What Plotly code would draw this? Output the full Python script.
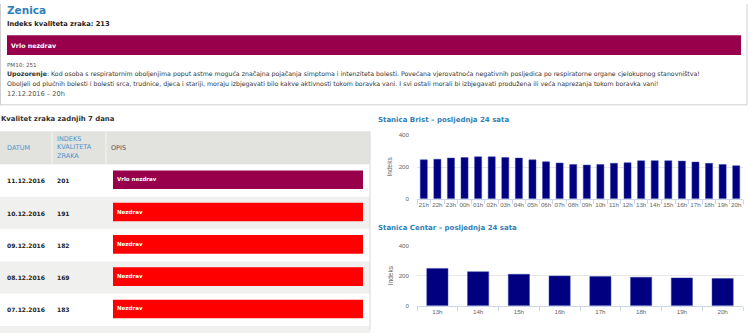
import plotly.graph_objects as go

# ---------------- data ----------------
city = "Zenica"
aqi_now = 213
status_now = "Vrlo nezdrav"
pm10_now = 251
warning_line1 = ("Kod osoba s respiratornim oboljenjima poput astme moguća značajna pojačanja simptoma i "
                 "intenziteta bolesti. Povećana vjerovatnoća negativnih posljedica po respiratorne organe "
                 "cjelokupnog stanovništva!")
warning_line2 = ("Oboljeli od plućnih bolesti i bolesti srca, trudnice, djeca i stariji, moraju izbjegavati "
                 "bilo kakve aktivnosti tokom boravka vani. I svi ostali morali bi izbjegavati produžena ili "
                 "veća naprezanja tokom boravka vani!")
timestamp = "12.12.2016 – 20h"

table_title = "Kvalitet zraka zadnjih 7 dana"
table_headers = ["DATUM", "INDEKS<br>KVALITETA<br>ZRAKA", "OPIS"]
dates = ["11.12.2016", "10.12.2016", "09.12.2016", "08.12.2016", "07.12.2016"]
index_values = [201, 191, 182, 169, 183]
descriptions = ["Vrlo nezdrav", "Nezdrav", "Nezdrav", "Nezdrav", "Nezdrav"]
status_colors = {"Vrlo nezdrav": "#99004c", "Nezdrav": "#ff0000"}

brist_title = "Stanica Brist – posljednja 24 sata"
brist_hours = ["21h", "22h", "23h", "00h", "01h", "02h", "03h", "04h", "05h", "06h", "07h", "08h",
               "09h", "10h", "11h", "12h", "13h", "14h", "15h", "16h", "17h", "18h", "19h", "20h"]
brist_values = [245, 249, 256, 260, 264, 264, 260, 256, 245, 233, 225, 216,
                212, 216, 223, 227, 239, 240, 239, 237, 231, 223, 216, 208]

centar_title = "Stanica Centar – posljednja 24 sata"
centar_hours = ["13h", "14h", "15h", "16h", "17h", "18h", "19h", "20h"]
centar_values = [248, 226, 209, 198, 194, 189, 185, 181]

y_ticks = [0, 200, 400]
y_title = "Indeks"

# ---------------- layout helpers ----------------
W, H = 750, 333
def px(x):
    return x / W
def py(y):
    return 1 - y / H

BODY = "DejaVu Sans"
CHART_FONT = "Liberation Sans"
BLUE = "#2f80b8"

shapes = []
annotations = []

def rect(x0, y0, x1, y1, fill, line=None, lw=0):
    shapes.append(dict(type="rect", xref="paper", yref="paper",
                       x0=px(x0), x1=px(x1), y0=py(y1), y1=py(y0),
                       fillcolor=fill, line=dict(color=line or fill, width=lw), layer="below"))

def line(x0, y0, x1, y1, color, w=1):
    shapes.append(dict(type="line", xref="paper", yref="paper",
                       x0=px(x0), x1=px(x1), y0=py(y0), y1=py(y1),
                       line=dict(color=color, width=w), layer="below"))

def text(x, y, s, size, color="#333", family=BODY, anchor="left", angle=0):
    annotations.append(dict(xref="paper", yref="paper", x=px(x), y=py(y), text=s,
                            showarrow=False, xanchor=anchor, yanchor="middle",
                            font=dict(size=size, color=color, family=family),
                            textangle=angle, borderpad=0, align="left"))

# ---------------- header box ----------------
line(0.5, 0, 0.5, 103, "#d0d0d0")
line(747, 0, 747, 103, "#d0d0d0")
line(0, 103, 747, 103, "#d0d0d0")
text(6, 6, f"<b>{city}</b>", 10.5, BLUE)
text(6, 20, f"<b>Indeks kvaliteta zraka: {aqi_now}</b>", 6.7, "#222")
rect(7, 32, 741, 52, status_colors[status_now])
text(9.5, 42, f"<b>{status_now}</b>", 6.3, "#ffffff")
text(6, 62, f"PM10: {pm10_now}", 5.6, "#555")
text(6, 72, f"<b>Upozorenje</b>: {warning_line1}", 6.25, "#333")
text(6, 82, warning_line2, 6.25, "#333")
text(6, 92, timestamp, 6.6, "#555")

# ---------------- table ----------------
text(0, 117, f"<b>{table_title}</b>", 6.9, "#333")
tbl_top, hdr_h, row_h = 130, 34, 33
rect(0, tbl_top, 370, tbl_top + hdr_h, "#e2e2de")
line(52, tbl_top, 52, tbl_top + hdr_h, "#f4f4f2")
line(106, tbl_top, 106, tbl_top + hdr_h, "#f4f4f2")
col_x = [6, 56, 110]
hdr_colors = ["#4f93c9", "#4f93c9", "#555"]
for cx, h, c in zip(col_x, table_headers, hdr_colors):
    text(cx, tbl_top + hdr_h / 2, h, 6.5, c)

n_rows = len(dates) + 1
for i in range(n_rows):
    top = tbl_top + hdr_h + i * row_h
    bg = "#ffffff" if i % 2 == 0 else "#f0f0ee"
    rect(0, top, 370, top + row_h, bg)
    if i < len(dates):
        text(col_x[0], top + row_h / 2, f"<b>{dates[i]}</b>", 6, "#222")
        text(col_x[1], top + row_h / 2, f"<b>{index_values[i]}</b>", 6, "#222")
        rect(113, top + 6, 363, top + 25, status_colors[descriptions[i]])
        text(116, top + 15, f"<b>{descriptions[i]}</b>", 5.5, "#ffffff")
line(370, tbl_top, 370, 333, "#d8d8d8")

# ---------------- charts ----------------
text(377, 118, f"<b>{brist_title}</b>", 7, BLUE)
text(377, 229, f"<b>{centar_title}</b>", 7, BLUE)
text(390, 166, y_title, 6.5, "#666", CHART_FONT, "center", -90)
text(390, 277, y_title, 6.5, "#666", CHART_FONT, "center", -90)

BAR = "#000080"
fig = go.Figure()
fig.add_trace(go.Bar(x=brist_hours, y=brist_values, marker=dict(color=BAR, line=dict(color="#3344aa", width=0.5)),
                     xaxis="x", yaxis="y", showlegend=False))
fig.add_trace(go.Bar(x=centar_hours, y=centar_values, marker=dict(color=BAR, line=dict(color="#3344aa", width=0.5)),
                     xaxis="x2", yaxis="y2", showlegend=False))

xdom = [px(417), px(743)]
common_x = dict(showgrid=False, showline=True, linecolor="#ccd6eb", linewidth=1,
                ticks="outside", ticklen=4, tickcolor="#ccd6eb", tickson="boundaries",
                tickangle=0, tickfont=dict(size=6.2, color="#666", family=CHART_FONT),
                fixedrange=True, type="category")
common_y = dict(range=[0, 400], tickvals=y_ticks, showgrid=True, gridcolor="#e6e6e6",
                zeroline=False, showline=False, ticklabelstandoff=7,
                tickfont=dict(size=6.2, color="#666", family=CHART_FONT), fixedrange=True)

fig.update_layout(
    width=W, height=H, margin=dict(l=0, r=0, t=0, b=0),
    paper_bgcolor="#ffffff", plot_bgcolor="rgba(0,0,0,0)",
    bargap=0.48,
    xaxis=dict(domain=xdom, anchor="y", **common_x),
    yaxis=dict(domain=[py(199), py(134)], anchor="x", **common_y),
    xaxis2=dict(domain=xdom, anchor="y2", **common_x),
    yaxis2=dict(domain=[py(308.3), py(246.7)], anchor="x2", **common_y),
    shapes=shapes, annotations=annotations,
)

fig.write_html("out.html")
